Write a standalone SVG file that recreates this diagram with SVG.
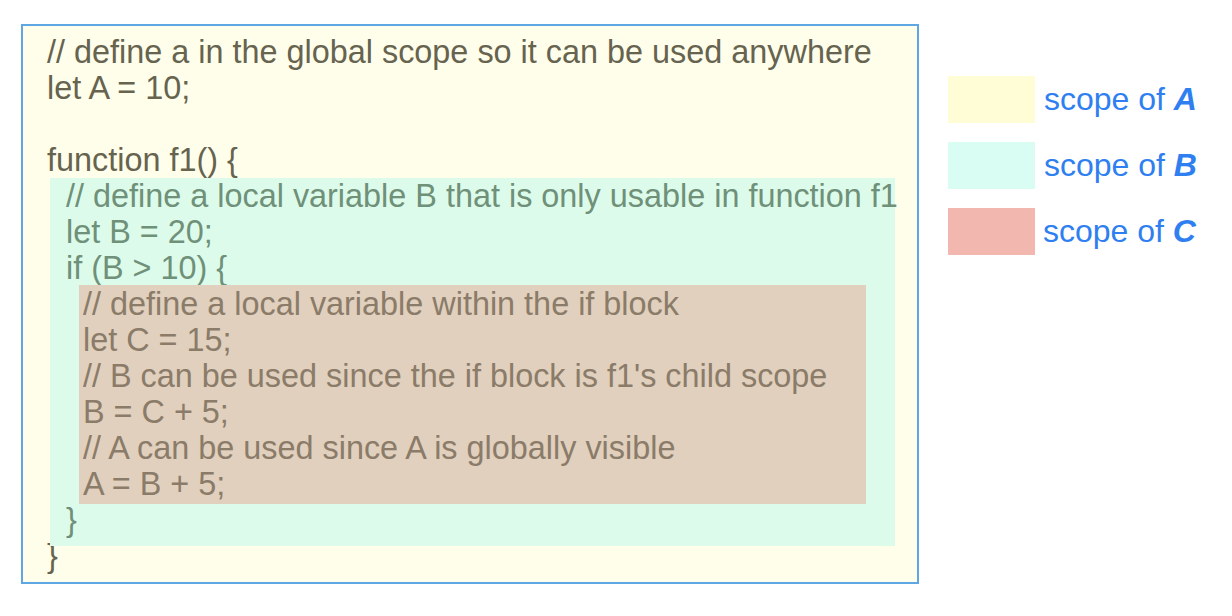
<svg xmlns="http://www.w3.org/2000/svg" width="1232" height="616" viewBox="0 0 1232 616">
<style>
text { font-family: "Liberation Sans", Arial, sans-serif; font-size: 32.4px; }
.ta { fill: #66634f; }
.tb { fill: #6f9079; }
.tc { fill: #8b7b69; }
.leg { fill: #2f7ff0; font-size: 32px; }
.legb { font-weight: bold; font-style: italic; }
</style>
<rect width="1232" height="616" fill="#ffffff"/>
<g id="scope-a">
<rect x="22" y="25" width="896" height="558" fill="#fffeeb" stroke="#5ea6e4" stroke-width="2"/>
<text class="ta" x="47" y="63">// define a in the global scope so it can be used anywhere</text>
<text class="ta" x="47" y="99">let A = 10;</text>
<text class="ta" x="47" y="171">function f1() {</text>
<text class="ta" x="47" y="567">}</text>
</g>
<g id="scope-b">
<rect x="50" y="178" width="845" height="368" fill="#ddfbea"/>
<text class="tb" x="66" y="207">// define a local variable B that is only usable in function f1</text>
<text class="tb" x="66" y="243">let B = 20;</text>
<text class="tb" x="66" y="279">if (B &gt; 10) {</text>
<text class="tb" x="66" y="531">}</text>
</g>
<g id="scope-c">
<rect x="79" y="285" width="787" height="219" fill="#e0d0bd"/>
<text class="tc" x="83" y="315">// define a local variable within the if block</text>
<text class="tc" x="83" y="351">let C = 15;</text>
<text class="tc" x="83" y="387">// B can be used since the if block is f1's child scope</text>
<text class="tc" x="83" y="423">B = C + 5;</text>
<text class="tc" x="83" y="459">// A can be used since A is globally visible</text>
<text class="tc" x="83" y="495">A = B + 5;</text>
</g>
<g id="legend">
<g id="legend-a">
<rect x="948" y="76" width="87" height="47" fill="#fffdd6"/>
<text class="leg" x="1044" y="110">scope of <tspan class="legb">A</tspan></text>
</g>
<g id="legend-b">
<rect x="948" y="142" width="87" height="47" fill="#d9fcf3"/>
<text class="leg" x="1044" y="176">scope of <tspan class="legb">B</tspan></text>
</g>
<g id="legend-c">
<rect x="948" y="208" width="87" height="47" fill="#f2b7ae"/>
<text class="leg" x="1043" y="242">scope of <tspan class="legb">C</tspan></text>
</g>
</g>
<g id="connectors"></g>
</svg>
